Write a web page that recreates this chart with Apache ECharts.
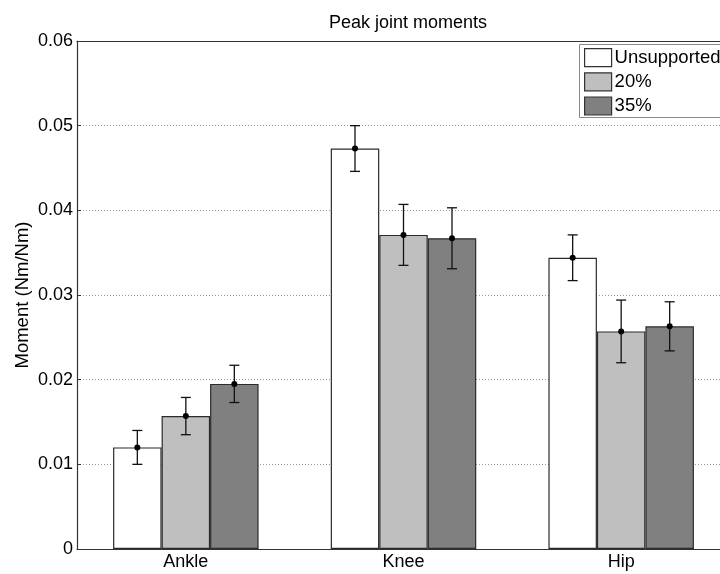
<!DOCTYPE html>
<html>
<head>
<meta charset="utf-8">
<script src="https://cdn.jsdelivr.net/npm/echarts@6/dist/echarts.min.js"></script>
<style>
    html, body { margin: 0; padding: 0; background: #fff; }
    #chart-box { width: 720px; height: 574px; }
</style>
</head>
<body>
<div id="chart-box"></div>
<script>
    // data
    const joints = ['Ankle', 'Knee', 'Hip'];
    const groups = ['Unsupported', '20%', '35%'];
    const unsupported = [0.0120, 0.0473, 0.0344];
    const support20 = [0.0157, 0.0371, 0.0257];
    const support35 = [0.0195, 0.0367, 0.0263];
    const err_unsupported = [0.0020, 0.0027, 0.0027];
    const err_20 = [0.0022, 0.0036, 0.0037];
    const err_35 = [0.0022, 0.0036, 0.0029];
    const yTicks = [0, 0.01, 0.02, 0.03, 0.04, 0.05, 0.06];

    const fills = ['#ffffff', '#bfbfbf', '#808080'];
    const values = [unsupported, support20, support35];
    const errors = [err_unsupported, err_20, err_35];
    const barW = 48.5;
    const font = 'Liberation Sans, Arial, Helvetica, sans-serif';

    let series = [];
    values.forEach(function (vals, i) {
        series.push({
            name: groups[i],
            type: 'bar',
            data: vals,
            barWidth: barW,
            barGap: '0%',
            itemStyle: {color: fills[i], borderColor: '#2b2b2b', borderWidth: 1.2},
            emphasis: {disabled: true}
        });
    });

    // error bars with a dot at the mean
    values.forEach(function (vals, i) {
        series.push({
            type: 'custom',
            z: 5,
            silent: true,
            data: vals.map(function (v, j) { return [j, v, errors[i][j]]; }),
            renderItem: function (params, api) {
                let c = api.value(0), v = api.value(1), e = api.value(2);
                let mid = api.coord([c, v]);
                let hi = api.coord([c, v + e]);
                let lo = api.coord([c, v - e]);
                let x = mid[0] + (i - 1) * barW;
                let cap = 5;
                let st = {stroke: '#111', lineWidth: 1.3};
                return {
                    type: 'group',
                    children: [
                        {type: 'line', shape: {x1: x, y1: hi[1], x2: x, y2: lo[1]}, style: st},
                        {type: 'line', shape: {x1: x - cap, y1: hi[1], x2: x + cap, y2: hi[1]}, style: st},
                        {type: 'line', shape: {x1: x - cap, y1: lo[1], x2: x + cap, y2: lo[1]}, style: st},
                        {type: 'circle', shape: {cx: x, cy: mid[1], r: 3}, style: {fill: '#000'}}
                    ]
                };
            }
        });
    });

    let option = {
        animation: false,
        title: {
            text: 'Peak joint moments',
            left: 403,
            textAlign: 'center',
            top: 9,
            textStyle: {fontFamily: font, fontSize: 18, fontWeight: 'normal', color: '#000'}
        },
        // legend frame runs off the right edge like in the original
        graphic: [{
            type: 'rect',
            z: 50,
            silent: true,
            shape: {x: 579.5, y: 44.5, width: 200, height: 73},
            style: {fill: '#fff', stroke: '#888', lineWidth: 1}
        }],
        legend: {
            orient: 'vertical',
            left: 579,
            top: 44,
            z: 60,
            padding: [4, 5, 4, 5],
            itemGap: 5,
            itemWidth: 27,
            itemHeight: 18,
            icon: 'rect',
            selectedMode: false,
            textStyle: {fontFamily: font, fontSize: 18.5, color: '#000', padding: [0, 0, 0, -2]},
            data: groups.map(function (g, i) {
                return {name: g, itemStyle: {color: fills[i], borderColor: '#333', borderWidth: 1.2}};
            })
        },
        grid: {left: 77, width: 653, top: 41, bottom: 25, outerBoundsMode: 'none', containLabel: false},
        xAxis: [
            {
                type: 'category',
                data: joints,
                axisLine: {lineStyle: {color: '#333', width: 1.2}},
                axisTick: {inside: true, alignWithLabel: true, length: 4, lineStyle: {color: '#333'}},
                axisLabel: {fontFamily: font, fontSize: 18, color: '#000', margin: 4}
            },
            {
                type: 'category',
                data: joints,
                position: 'top',
                axisLine: {lineStyle: {color: '#333', width: 1.2}},
                axisTick: {inside: true, alignWithLabel: true, length: 4, lineStyle: {color: '#333'}},
                axisLabel: {show: false}
            }
        ],
        yAxis: {
            type: 'value',
            min: yTicks[0],
            max: yTicks[yTicks.length - 1],
            interval: 0.01,
            name: 'Moment (Nm/Nm)',
            nameLocation: 'middle',
            nameGap: 45,
            nameMoveOverlap: false,
            nameTextStyle: {fontFamily: font, fontSize: 18.5, color: '#000'},
            axisLine: {show: true, lineStyle: {color: '#333', width: 1.2}},
            axisTick: {show: true, inside: true, length: 4, lineStyle: {color: '#333'}},
            axisLabel: {
                fontFamily: font, fontSize: 18, color: '#000', margin: 4,
                formatter: function (v) { return v === 0 ? '0' : v.toFixed(2); }
            },
            splitLine: {show: true, lineStyle: {color: '#999', type: [1, 2], width: 1}}
        },
        series: series
    };

    let chart = echarts.init(document.getElementById('chart-box'));
    chart.setOption(option);
</script>
</body>
</html>
